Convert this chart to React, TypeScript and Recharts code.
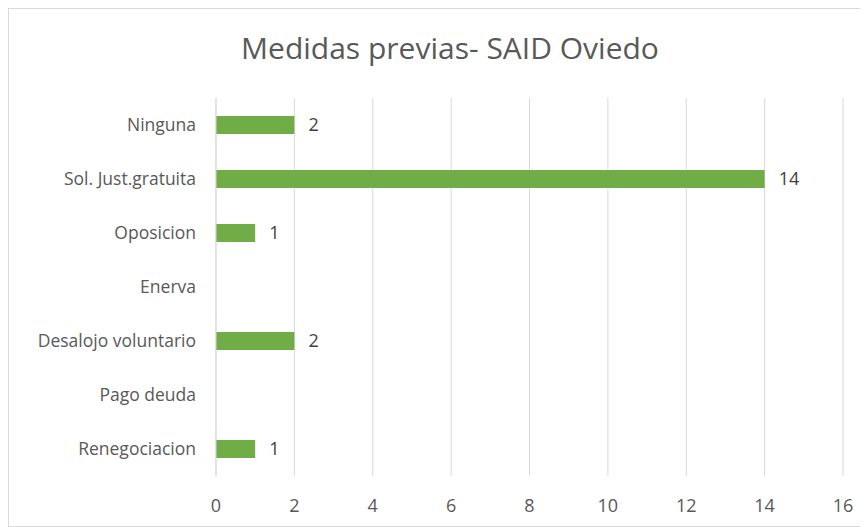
import { BarChart, Bar, XAxis, YAxis, CartesianGrid, LabelList } from 'recharts';

const categories = [
  'Ninguna',
  'Sol. Just.gratuita',
  'Oposicion',
  'Enerva',
  'Desalojo voluntario',
  'Pago deuda',
  'Renegociacion',
];
const values = [2, 14, 1, 0, 2, 0, 1];
const xTicks = [0, 2, 4, 6, 8, 10, 12, 14, 16];

const data = categories.map((name, i) => ({ name, value: values[i] }));

const font = '"Open Sans", "Noto Sans", sans-serif';

export default function App() {
  return (
    <div
      style={{
        width: 860,
        height: 519,
        position: 'relative',
        border: '1px solid #d9d9d9',
        boxSizing: 'border-box',
        background: '#fff',
        fontFamily: font,
      }}
    >
      <div
        style={{
          position: 'absolute',
          top: 18,
          left: 12,
          width: '100%',
          textAlign: 'center',
          fontSize: 30,
          color: '#595959',
        }}
      >
        Medidas previas- SAID Oviedo
      </div>
      <BarChart
        width={858}
        height={517}
        data={data}
        layout="vertical"
        margin={{ top: 89, right: 24, bottom: 0, left: 7 }}
        barCategoryGap={18}
      >
        <CartesianGrid horizontal={false} stroke="#d9d9d9" />
        <XAxis
          type="number"
          domain={[0, 16]}
          ticks={xTicks}
          axisLine={false}
          tickLine={false}
          tickMargin={17}
          height={50}
          tick={{ fill: '#595959', fontSize: 18, fontFamily: font }}
        />
        <YAxis
          type="category"
          dataKey="name"
          width={200}
          axisLine={{ stroke: '#d9d9d9' }}
          tickLine={false}
          tickMargin={14}
          tick={{ fill: '#595959', fontSize: 17.5, fontFamily: font }}
        />
        <Bar dataKey="value" fill="#70ad47" barSize={18} isAnimationActive={false}>
          <LabelList
            dataKey="value"
            position="right"
            offset={14}
            formatter={(v: number) => (v ? v : '')}
            style={{ fill: '#404040', fontSize: 18, fontFamily: font }}
          />
        </Bar>
      </BarChart>
    </div>
  );
}
